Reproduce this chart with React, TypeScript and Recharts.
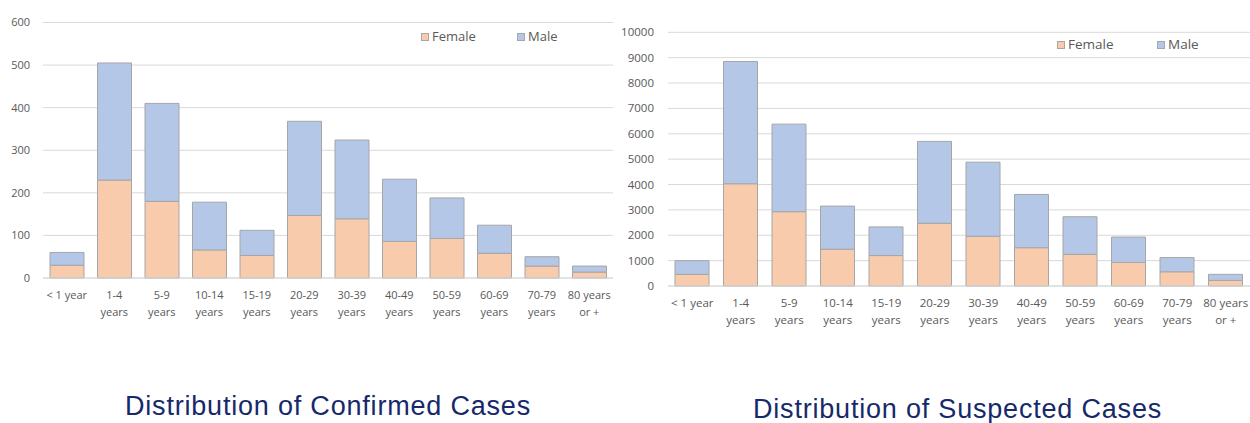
import React from "react";
import { BarChart, Bar, XAxis, YAxis, CartesianGrid } from "recharts";

const FEMALE = "#f8cbad";
const MALE = "#b4c7e7";
const EDGE = "#a6a6a6";
const GRID = "#d9d9d9";
const LABEL = "#595959";
const TITLE = "#15296b";

const ageGroups = [
  "< 1 year", "1-4\nyears", "5-9\nyears", "10-14\nyears", "15-19\nyears", "20-29\nyears",
  "30-39\nyears", "40-49\nyears", "50-59\nyears", "60-69\nyears", "70-79\nyears", "80 years\nor +",
];

const confirmedFemale = [30, 230, 180, 66, 53, 147, 139, 86, 93, 58, 28, 14];
const confirmedMale = [30, 275, 230, 112, 59, 221, 185, 146, 95, 66, 22, 14];
const confirmedTicks = [0, 100, 200, 300, 400, 500, 600];

const suspectedFemale = [460, 4030, 2930, 1450, 1200, 2470, 1960, 1510, 1250, 930, 560, 220];
const suspectedMale = [540, 4820, 3450, 1700, 1130, 3230, 2920, 2100, 1480, 1000, 560, 240];
const suspectedTicks = [0, 1000, 2000, 3000, 4000, 5000, 6000, 7000, 8000, 9000, 10000];

const confirmedData = ageGroups.map((group, i) => ({ group, female: confirmedFemale[i], male: confirmedMale[i] }));
const suspectedData = ageGroups.map((group, i) => ({ group, female: suspectedFemale[i], male: suspectedMale[i] }));

const FONT = "'Open Sans', sans-serif";

function AgeTick({ x, y, payload, fontSize }: any) {
  const lines = String(payload.value).split("\n");
  return (
    <g transform={`translate(${x},${y})`}>
      <text textAnchor="middle" fill={LABEL} fontSize={fontSize} fontFamily={FONT}>
        {lines.map((line, i) => (
          <tspan key={i} x={0} dy={i === 0 ? 13 : 17}>{line}</tspan>
        ))}
      </text>
    </g>
  );
}

function LegendBox({ left, top, size, gap }: { left: number; top: number; size: number; gap: number }) {
  const item = (color: string, text: string, width: number) => (
    <div style={{ display: "flex", alignItems: "center", width }}>
      <span style={{ display: "inline-block", width: 8, height: 8, background: color, border: `1px solid ${EDGE}`, marginRight: 3, boxSizing: "border-box" }} />
      <span>{text}</span>
    </div>
  );
  return (
    <div style={{ position: "absolute", left, top, display: "flex", fontFamily: FONT, fontSize: size, color: LABEL, lineHeight: 1 }}>
      {item(FEMALE, "Female", gap)}
      {item(MALE, "Male", 60)}
    </div>
  );
}

function StackedChart({ data, ticks, max, width, yWidth, tickMargin, top, bottom, right, fontSize }: any) {
  return (
    <BarChart width={width} height={340} data={data} margin={{ top, right, bottom, left: 0 }} barSize={34}>
      <CartesianGrid stroke={GRID} vertical={false} />
      <XAxis
        dataKey="group"
        interval={0}
        tickLine={false}
        axisLine={{ stroke: GRID }}
        height={40}
        tick={<AgeTick fontSize={fontSize} />}
      />
      <YAxis
        domain={[0, max]}
        ticks={ticks}
        width={yWidth}
        tickMargin={tickMargin}
        tickLine={false}
        axisLine={false}
        tick={{ fill: LABEL, fontSize, fontFamily: FONT }}
      />
      <Bar dataKey="female" stackId="a" fill={FEMALE} stroke={EDGE} strokeWidth={1} isAnimationActive={false} />
      <Bar dataKey="male" stackId="a" fill={MALE} stroke={EDGE} strokeWidth={1} isAnimationActive={false} />
    </BarChart>
  );
}

export default function App() {
  return (
    <div style={{ position: "absolute", left: 0, top: 0, width: 1250, height: 423, background: "#fff", overflow: "hidden" }}>
      <div style={{ position: "absolute", left: 0, top: 0 }}>
        <StackedChart data={confirmedData} ticks={confirmedTicks} max={600} width={620} yWidth={43}
          tickMargin={7} top={22.5} bottom={22} right={7} fontSize={11} />
      </div>
      <div style={{ position: "absolute", left: 610, top: 0 }}>
        <StackedChart data={suspectedData} ticks={suspectedTicks} max={10000} width={640} yWidth={58}
          tickMargin={8} top={32.3} bottom={14} right={0} fontSize={11.5} />
      </div>
      <LegendBox left={421} top={30} size={13} gap={96} />
      <LegendBox left={1057} top={38} size={13.5} gap={100} />
      <div style={{ position: "absolute", left: 125, top: 391, fontFamily: "'Liberation Sans', Arial, sans-serif", fontSize: 27, letterSpacing: 0.8, color: TITLE, whiteSpace: "nowrap" }}>
        Distribution of Confirmed Cases
      </div>
      <div style={{ position: "absolute", left: 753, top: 394, fontFamily: "'Liberation Sans', Arial, sans-serif", fontSize: 27, letterSpacing: 0.8, color: TITLE, whiteSpace: "nowrap" }}>
        Distribution of Suspected Cases
      </div>
    </div>
  );
}
